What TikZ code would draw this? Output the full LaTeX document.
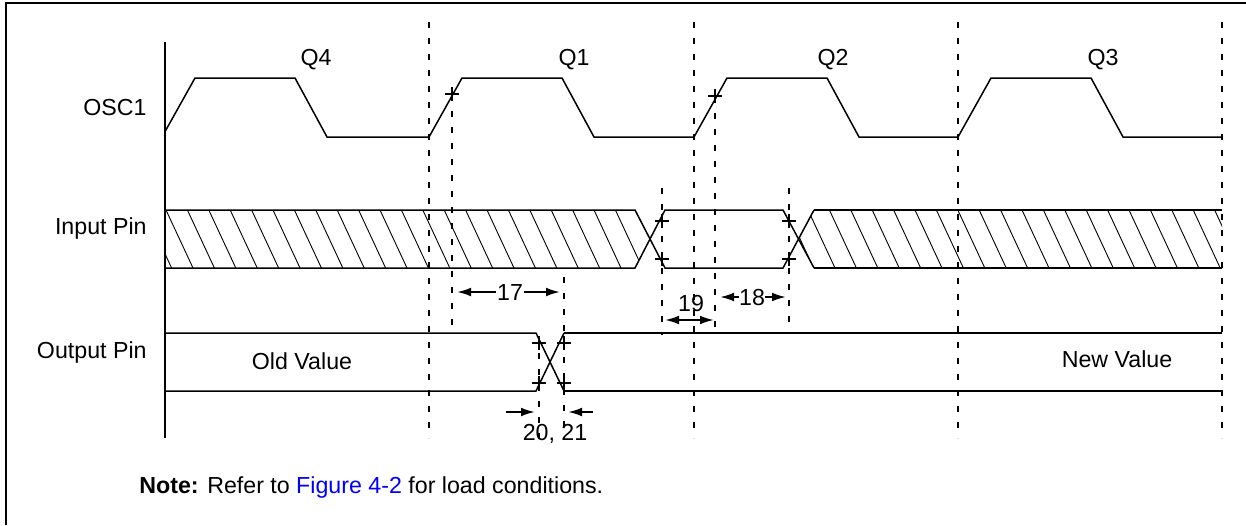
\documentclass[tikz,border=0pt]{standalone}
\usepackage{fontspec}
\setmainfont{Liberation Sans}
\usetikzlibrary{arrows.meta}
\begin{document}
\begin{tikzpicture}[x=0.5pt,y=-0.5pt]
\tikzset{sig/.style={line width=0.75pt},
  sigbold/.style={line width=1pt},
  hatch/.style={line width=0.45pt},
  guide/.style={line width=1pt,dash pattern=on 3pt off 5pt},
  marker/.style={line width=0.9pt},
  dimarrow/.style={line width=1pt,-{Latex[length=7pt,width=4.4pt]}},
  dimboth/.style={line width=1pt,{Latex[length=7pt,width=4.4pt]}-{Latex[length=7pt,width=4.4pt]}},
  lbl/.style={font=\fontsize{11.6}{14}\selectfont,inner sep=0pt}}
\useasboundingbox (0,0) rectangle (1246,525);
\draw[line width=1.2pt] (6,525) -- (6,3) -- (1246,3);
\draw[line width=1pt] (165,42) -- (165,438);
\foreach \x in {429,694,958,1222}
{
    \draw[guide] (\x,22) -- (\x,438);
}
\node[lbl,anchor=base east] (osc) at (147,115) {OSC1};
\node[lbl,anchor=base east] (inpin) at (147,234) {Input Pin};
\node[lbl,anchor=base east] (outpin) at (147,358) {Output Pin};
\foreach \q/\x in {Q4/316,Q1/574,Q2/833,Q3/1103}
{
    \node[lbl,anchor=base] (\q) at (\x,65) {\q};
}
\begin{scope}
\clip (165,0) rectangle (1223,525);
\foreach \s/\e in {162/429,429/694,694/958,958/1222}
{
    \draw[sig] (\s,137) -- (\s+33,78) -- (\s+133,78) -- (\s+165,137) -- (\e,137);
}
\end{scope}
\draw[sig] (165,210) -- (635,210) -- (665,268) -- (783,268) -- (814,210);
\draw[sig] (165,268) -- (635,268) -- (665,210) -- (783,210) -- (814,268);
\draw[sigbold] (814,210) -- (1222,210) (814,268) -- (1222,268);
\begin{scope}
\clip (165,210) -- (635,210) -- (650,239) -- (635,268) -- (165,268) -- cycle
      (1222,210) -- (814,210) -- (798.5,239) -- (814,268) -- (1222,268) -- cycle;
\foreach \i in {-2,...,50}
{
    \draw[hatch] ({166+21.4*\i},210) -- ({193+21.4*\i},268);
}
\end{scope}
\draw[sig] (165,333) -- (536,333) -- (564,391);
\draw[sig] (165,391) -- (536,391) -- (564,333);
\draw[sigbold] (564,333) -- (1222,333) (564,391) -- (1222,391);
\node[lbl,anchor=base] (old) at (302,369) {Old Value};
\node[lbl,anchor=base] (new) at (1117,367) {New Value};
\coordinate (m1) at (452,0);
\coordinate (m2) at (715,0);
\coordinate (m3) at (662,0);
\coordinate (m4) at (789,0);
\coordinate (m5) at (539,0);
\coordinate (m6) at (564,0);
\foreach \m/\a/\b in {m1/95/325,m2/97/330,m3/188/335,m4/188/332,m5/337/440,m6/277/440}
{
    \draw[guide] (\m |- 0,\a) -- (\m |- 0,\b);
}
\foreach \x/\y in {452/94,715/96,662/221,662/259,789/221,789/259,539/343,539/383,564/343,564/383}
{
    \draw[marker] (\x-7,\y) -- (\x+7,\y) (\x,\y-7) -- (\x,\y+7);
}
\node[lbl,anchor=base] (d17) at (510,300) {17};
\draw[dimarrow,shorten >=2.5pt] (d17.west) ++(-1,0) -- (d17.west -| m1);
\draw[dimarrow,shorten >=2pt] (d17.east) ++(1,0) -- (d17.east -| m6);
\node[lbl,anchor=base] (d19) at (691,311) {19};
\coordinate (r19) at (0,320);
\draw[dimboth,shorten <=1.5pt,shorten >=0.5pt] (m3 |- r19) -- (m2 |- r19);
\node[lbl,anchor=base] (d18) at (752,305) {18};
\draw[dimarrow,shorten >=2.5pt] (d18.west) -- (d18.west -| m2);
\draw[dimarrow,shorten >=1.5pt] (d18.east) -- (d18.east -| m4);
\node[lbl,anchor=base] (d20) at (555,440) {20, 21};
\coordinate (s20) at (506,412);
\coordinate (s21) at (593,412);
\draw[dimarrow,shorten >=2pt] (s20) -- (s20 -| m5);
\draw[dimarrow,shorten >=2pt] (s21) -- (s21 -| m6);
\node[lbl,anchor=base west] (note) at (139,493) {\textbf{Note:} Refer to \textcolor{blue}{Figure 4-2} for load conditions.};
\end{tikzpicture}
\end{document}
